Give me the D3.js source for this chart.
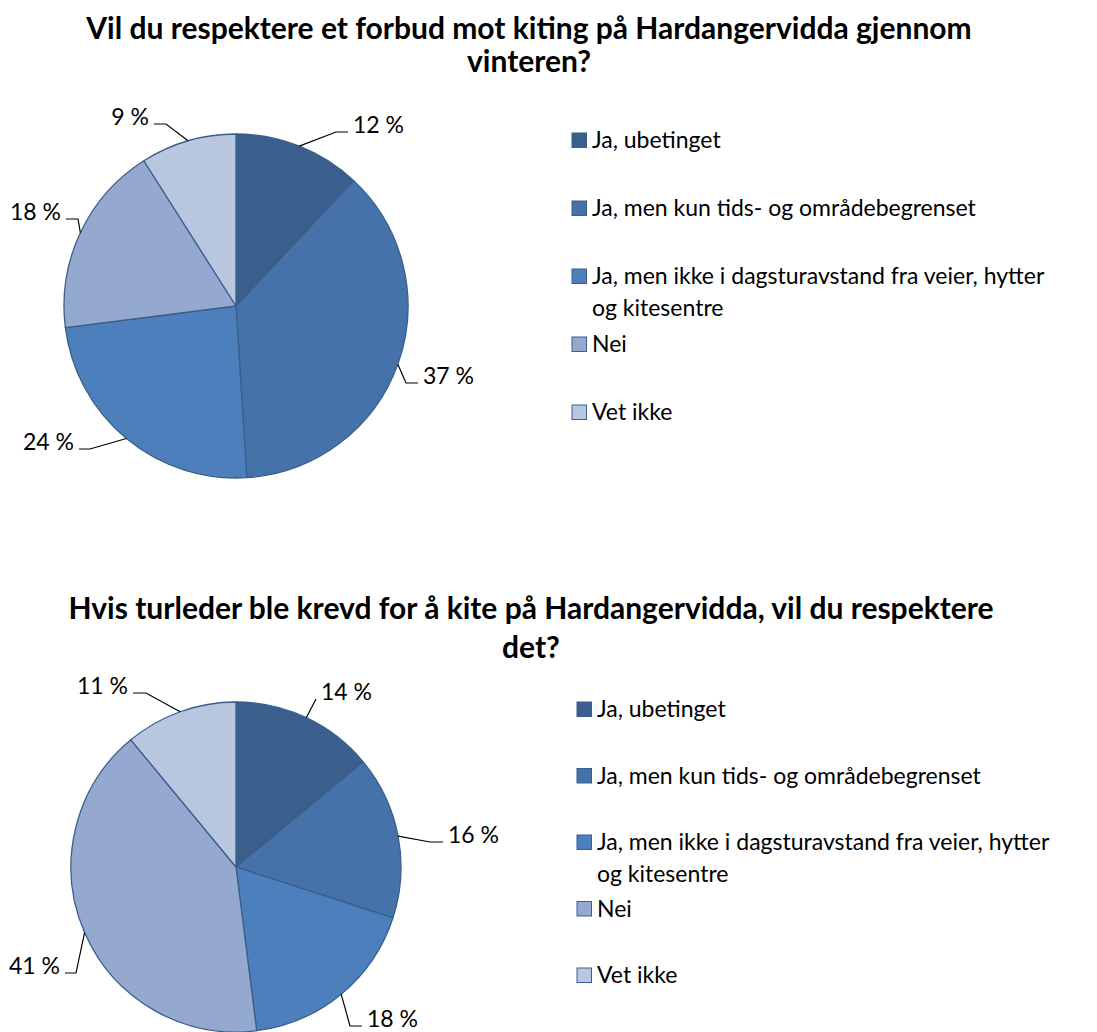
<!DOCTYPE html>
<html>
<head>
<meta charset="utf-8">
<script src="https://cdn.jsdelivr.net/npm/d3@7"></script>
<style>
  html, body { margin: 0; padding: 0; background: #ffffff; }
  svg { display: block; }
  text { font-family: Lato, "Open Sans", "Liberation Sans", sans-serif; fill: #000; }
</style>
</head>
<body>
<svg id="chart" width="1097" height="1032"></svg>
<script>
// Answer categories shared by both survey questions (legend lines already broken)
const categories = [
  ["Ja, ubetinget"],
  ["Ja, men kun tids- og områdebegrenset"],
  ["Ja, men ikke i dagsturavstand fra veier, hytter", "og kitesentre"],
  ["Nei"],
  ["Vet ikke"]
];

// Question 1: respect a winter ban on kiting
const titleForbud = ["Vil du respektere et forbud mot kiting på Hardangervidda gjennom", "vinteren?"];
const valuesForbud = [12, 37, 24, 18, 9];

// Question 2: respect a required guide
const titleTurleder = ["Hvis turleder ble krevd for å kite på Hardangervidda, vil du respektere", "det?"];
const valuesTurleder = [14, 16, 18, 41, 11];

// Slice colours (Office blue shades) and outline
const sliceColors = ["#3b5f8d", "#4572a8", "#4d7fbd", "#95a9d0", "#b9c6e0"];
const outline = "#3a5f8c";

// Label placement: anchor offset from pie centre, elbow length, side (+1 right, -1 left)
const labelsForbud = [
  { dx: 112, dy: -174, len: 12, side: 1 },
  { dx: 182, dy: 77, len: 12, side: 1 },
  { dx: -157, dy: 143, len: 11, side: -1 },
  { dx: -170, dy: -87, len: 12, side: -1 },
  { dx: -82, dy: -182, len: 12, side: -1 }
];
const labelsTurleder = [
  { dx: 80, dy: -168, len: 0, side: 1 },
  { dx: 207, dy: -25, len: 13, side: 1 },
  { dx: 126, dy: 159, len: 12, side: 1 },
  { dx: -171, dy: 106, len: 11, side: -1 },
  { dx: -103, dy: -174, len: 13, side: -1 }
];

const svg = d3.select("#chart");
svg.append("rect").attr("width", 1097).attr("height", 1032).attr("fill", "#fff");

const color = d3.scaleOrdinal().domain(d3.range(categories.length)).range(sliceColors);

function drawChart(cfg) {
  const g = svg.append("g");

  // Title
  const title = g.append("text")
    .attr("text-anchor", "middle")
    .attr("font-weight", "bold")
    .attr("font-size", cfg.titleSize);
  cfg.title.forEach((line, i) => {
    title.append("tspan")
      .attr("x", cfg.titleX)
      .attr("y", cfg.titleY + i * cfg.titleLead)
      .text(line);
  });

  // Pie
  const pie = d3.pie().sort(null).value(d => d)(cfg.values);
  const arc = d3.arc().innerRadius(0).outerRadius(cfg.r);
  const edge = d3.arc().innerRadius(cfg.r).outerRadius(cfg.r);
  const pg = g.append("g").attr("transform", `translate(${cfg.cx},${cfg.cy})`);

  pg.selectAll("path.slice")
    .data(pie)
    .join("path")
    .attr("class", "slice")
    .attr("d", arc)
    .attr("fill", (d, i) => color(i))
    .attr("stroke", outline)
    .attr("stroke-width", 1.3)
    .attr("stroke-linejoin", "round");

  // Leader lines and value labels
  pie.forEach((d, i) => {
    const L = cfg.labels[i];
    const [sx, sy] = edge.centroid(d);
    const ax = L.dx, ay = L.dy;
    const ex = ax - L.side * L.len;
    pg.append("polyline")
      .attr("points", `${sx},${sy} ${ex},${ay} ${ax},${ay}`)
      .attr("fill", "none")
      .attr("stroke", "#000")
      .attr("stroke-width", 1.2);
    pg.append("text")
      .attr("x", ax + L.side * 5)
      .attr("y", ay + 1)
      .attr("text-anchor", L.side > 0 ? "start" : "end")
      .attr("font-size", cfg.labelSize)
      .text(d3.format("d")(d.data) + " %");
  });

  // Legend
  const lg = g.append("g");
  categories.forEach((lines, i) => {
    const y = cfg.legendY + i * cfg.legendStep;
    lg.append("rect")
      .attr("x", cfg.legendX)
      .attr("y", y - 15)
      .attr("width", 14.5)
      .attr("height", 14.5)
      .attr("fill", color(i))
      .attr("stroke", outline)
      .attr("stroke-width", 1);
    const t = lg.append("text").attr("font-size", cfg.labelSize);
    lines.forEach((line, j) => {
      t.append("tspan")
        .attr("x", cfg.legendX + 20)
        .attr("y", y + j * 32)
        .text(line);
    });
  });
}

drawChart({
  title: titleForbud, values: valuesForbud, labels: labelsForbud,
  titleX: 529, titleY: 39, titleLead: 33, titleSize: 30,
  cx: 236, cy: 306, r: 172,
  labelSize: 23,
  legendX: 572, legendY: 148, legendStep: 68
});

drawChart({
  title: titleTurleder, values: valuesTurleder, labels: labelsTurleder,
  titleX: 531, titleY: 619, titleLead: 39, titleSize: 30,
  cx: 236, cy: 867, r: 165,
  labelSize: 23,
  legendX: 577, legendY: 717, legendStep: 66.5
});
</script>
</body>
</html>
